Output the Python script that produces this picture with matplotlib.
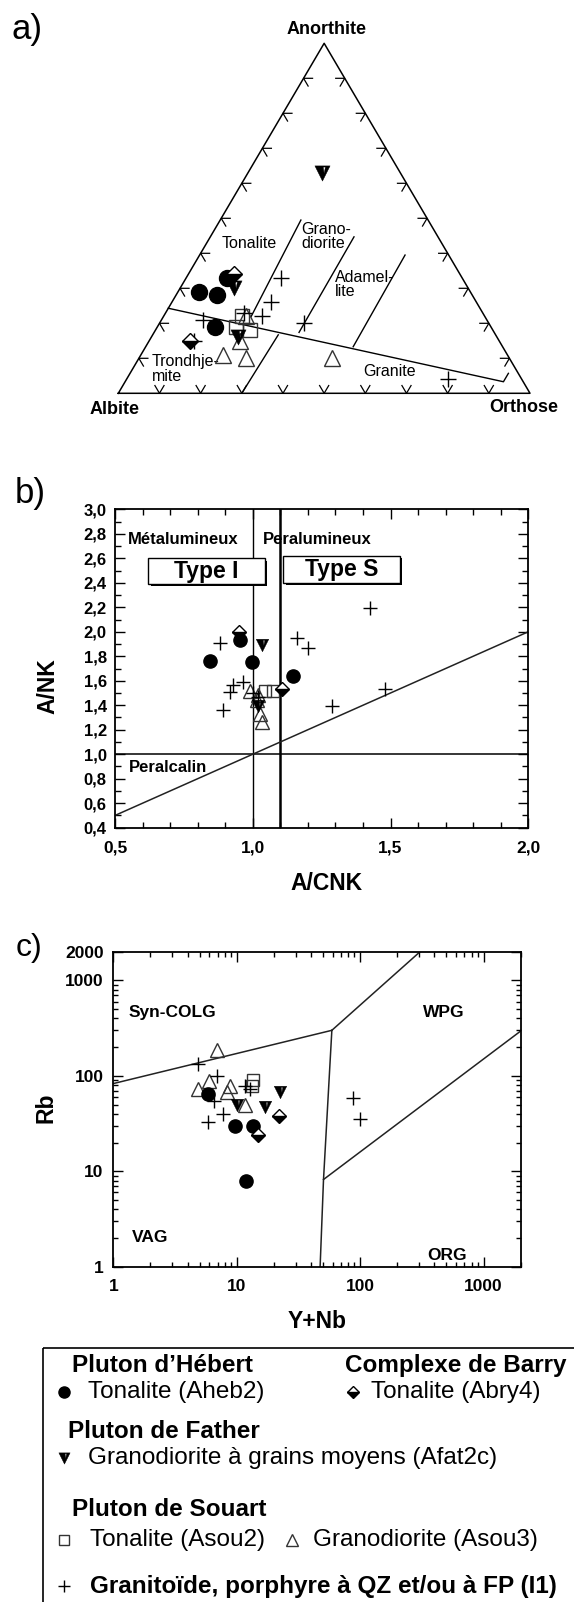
'''
Three geochemical diagrams (a: An-Ab-Or ternary, b: A/NK vs A/CNK, c: Rb vs Y+Nb)
with a common legend box underneath
'''

import matplotlib
matplotlib.use('Agg')
import matplotlib.pyplot as plt
import matplotlib.patheffects as pe
from matplotlib.path import Path
from matplotlib.markers import MarkerStyle
from matplotlib.patches import Rectangle
from matplotlib.ticker import FixedLocator, MultipleLocator, NullFormatter, LogLocator

plt.rcParams['font.family'] = ['Liberation Sans', 'DejaVu Sans']

## DATA ##

# a) normative (An, Ab, Or) in percent, one list per group
tern_heb = [(33, 57, 10), (29, 66, 5), (28, 62, 10), (19, 67, 14)]
tern_bry = [(34, 55, 11), (15, 75, 10)]
tern_fat = [(63, 19, 18), (30, 57, 13), (16, 63, 21)]
tern_sou2 = [(22, 59, 19), (18, 59, 23), (19, 62, 19)]
tern_sou3 = [(22, 58, 20), (11, 69, 20), (10, 64, 26), (10, 43, 47), (15, 63, 22)]
tern_i1 = [(33, 44, 23), (26, 50, 24), (22, 54, 24), (20, 45, 35), (21, 69, 10),
           (15, 74, 11), (4, 18, 78), (23, 58, 19)]

# field boundaries of the ternary, as (An, Or) fractions
tern_fields = [
    [(0.243, 0.0), (0.033, 0.919), (0.057, 0.919)],
    [(0.0, 0.300), (0.167, 0.305)],
    [(0.219, 0.213), (0.495, 0.196)],
    [(0.174, 0.352), (0.447, 0.349)],
    [(0.133, 0.504), (0.395, 0.499)],
]

# b) A/CNK (x) and A/NK (y)
b_heb_x = [0.845, 0.954, 0.996, 1.147]
b_heb_y = [1.76, 1.93, 1.75, 1.64]
b_bry_x = [0.951, 1.105]
b_bry_y = [2.00, 1.53]
b_fat_x = [1.032, 1.020]
b_fat_y = [1.89, 1.39]
b_sou2_x = [1.044, 1.072]
b_sou2_y = [1.52, 1.52]
b_sou3_x = [0.990, 1.014, 1.026, 1.032, 1.020]
b_sou3_y = [1.52, 1.44, 1.33, 1.265, 1.48]
b_i1_x = [0.881, 1.159, 1.202, 1.426, 0.891, 1.286, 1.480, 0.930, 0.966, 0.917, 1.002, 1.020]
b_i1_y = [1.905, 1.946, 1.864, 2.19, 1.361, 1.393, 1.529, 1.565, 1.592, 1.51, 1.497, 1.47]

b_xticks = [0.5, 1.0, 1.5, 2.0]
b_xtick_labels = ['0,5', '1,0', '1,5', '2,0']
b_yticks = [0.4, 0.6, 0.8, 1.0, 1.2, 1.4, 1.6, 1.8, 2.0, 2.2, 2.4, 2.6, 2.8, 3.0]
b_ytick_labels = ['0,4', '0,6', '0,8', '1,0', '1,2', '1,4', '1,6', '1,8', '2,0',
                  '2,2', '2,4', '2,6', '2,8', '3,0']

# c) Y+Nb (x) and Rb (y), ppm
c_heb_x = [5.9, 9.7, 13.6, 11.9]
c_heb_y = [64, 29.6, 30, 7.9]
c_bry_x = [22, 15]
c_bry_y = [38, 24]
c_fat_x = [22.5, 17, 10]
c_fat_y = [67, 47.5, 49]
c_sou2_x = [13.6, 13.3]
c_sou2_y = [90, 78]
c_sou3_x = [6.9, 4.9, 6.0, 8.8, 11.7, 8.3]
c_sou3_y = [185, 73, 88, 78, 49, 68]
c_i1_x = [4.9, 6.9, 5.9, 7.8, 11.7, 12.8, 88, 100, 6.5]
c_i1_y = [134, 100, 32.5, 40, 78, 72, 58, 35, 55]

# Pearce et al. discrimination lines
c_fields = [
    ([1, 59], [83, 300]),
    ([59, 306], [300, 2000]),
    ([59, 50.5, 47.4], [300, 8.2, 1]),
    ([50.5, 2000], [8.2, 295]),
]
c_ticks = [1, 10, 100, 1000]
c_xtick_labels = ['1', '10', '100', '1000']
c_yticks = [1, 10, 100, 1000, 2000]
c_ytick_labels = ['1', '10', '100', '1000', '2000']

## MARKERS ##

# black inverted triangle with a thin white notch
inv_tri = MarkerStyle(Path(
    [(-1, 1), (1, 1), (0, -1), (-1, 1),
     (0.10, 0.85), (0.22, 0.0), (0.38, 0.85), (0.10, 0.85)],
    [Path.MOVETO, Path.LINETO, Path.LINETO, Path.CLOSEPOLY] * 2))

styles = {
    'heb': dict(marker='o', mfc='black', mec='black', mew=1.0, scale=1.0),
    'bry': dict(marker='D', fillstyle='bottom', mfc='black', markerfacecoloralt='white',
                mec='black', mew=1.0, scale=0.72),
    'fat': dict(marker=inv_tri, mfc='black', mec='black', mew=0.3, scale=0.95),
    'sou2': dict(marker='s', mfc='none', mec='#333333', mew=1.0, scale=0.9),
    'sou3': dict(marker='^', mfc='none', mec='#333333', mew=1.0, scale=1.0),
    'i1': dict(marker='+', mec='black', mew=1.0, scale=1.0),
}


def draw_group(ax, x, y, key, size):
    st = dict(styles[key])
    ms = size * st.pop('scale')
    ax.plot(x, y, linestyle='none', ms=ms, zorder=5, clip_on=False, **st)


def tern_xy(points):
    x, y = [], []
    for an, ab, orr in points:
        tot = an + ab + orr
        x.append((orr + an / 2) / tot)
        y.append(an / tot)
    return x, y


## FIGURE ##

W, H = 574, 1602
fig = plt.figure(figsize=(W / 100, H / 100), dpi=100)


def px_axes(left, top, right, bottom):
    return fig.add_axes([left / W, 1 - bottom / H, (right - left) / W, (bottom - top) / H])


# ---------- a) ternary ----------
ax_a = px_axes(118.3, 43.3, 530.0, 393.3)
ax_a.set_xlim(0, 1)
ax_a.set_ylim(0, 1)
ax_a.axis('off')
ax_a.plot([0, 1, 0.5, 0], [0, 0, 1, 0], color='black', lw=1.1, clip_on=False)

# chevron ticks every 10 %
Lx, Ly = 9 / 411.7, 9 / 350.0
cs, sn = 0.507, 0.862
for k in range(1, 10):
    f = k / 10
    # left edge
    vx, vy = f / 2, f
    ax_a.plot([vx + Lx, vx, vx + cs * Lx], [vy, vy, vy - sn * Ly], color='black', lw=0.9)
    # right edge
    vx, vy = 1 - f / 2, f
    ax_a.plot([vx - Lx, vx, vx - cs * Lx], [vy, vy, vy - sn * Ly], color='black', lw=0.9)
    # bottom edge
    vx, vy = f, 0
    ax_a.plot([vx - cs * Lx, vx, vx + cs * Lx], [vy + sn * Ly, vy, vy + sn * Ly], color='black', lw=0.9)

for seg in tern_fields:
    xs = [o + a / 2 for a, o in seg]
    ys = [a for a, o in seg]
    ax_a.plot(xs, ys, color='black', lw=1.0)

ax_a.text(0.251, 0.427, 'Tonalite', fontsize=11.5, va='center')
ax_a.text(0.4455, 0.448, 'Grano-\ndiorite', fontsize=11.5, va='center', linespacing=0.95)
ax_a.text(0.526, 0.311, 'Adamel-\nlite', fontsize=11.5, va='center', linespacing=0.95)
ax_a.text(0.081, 0.069, 'Trondhje-\nmite', fontsize=11.5, va='center', linespacing=0.95)
ax_a.text(0.595, 0.061, 'Granite', fontsize=11.5, va='center')

for pts, key in [(tern_sou3, 'sou3'), (tern_sou2, 'sou2'), (tern_i1, 'i1'),
                 (tern_heb, 'heb'), (tern_fat, 'fat'), (tern_bry, 'bry')]:
    x, y = tern_xy(pts)
    draw_group(ax_a, x, y, key, 11.5)

# ---------- b) A/NK vs A/CNK ----------
ax_b = px_axes(115.0, 509.3, 528.3, 827.7)
ax_b.set_xlim(0.5, 2.0)
ax_b.set_ylim(0.4, 3.0)
ax_b.xaxis.set_major_locator(FixedLocator(b_xticks))
ax_b.xaxis.set_minor_locator(MultipleLocator(0.1))
ax_b.yaxis.set_major_locator(FixedLocator(b_yticks))
ax_b.yaxis.set_minor_locator(MultipleLocator(0.1))
ax_b.set_xticklabels(b_xtick_labels, fontweight='bold', fontsize=12.5)
ax_b.set_yticklabels(b_ytick_labels, fontweight='bold', fontsize=12)
ax_b.tick_params(which='both', direction='in', top=True, right=True, width=1.0)
ax_b.tick_params(which='major', length=7)
ax_b.tick_params(which='minor', length=4)
ax_b.tick_params(axis='x', pad=9)
ax_b.tick_params(axis='y', pad=6)
for sp in ax_b.spines.values():
    sp.set_linewidth(1.3)

ax_b.axvline(1.0, color='black', lw=1.0, zorder=2)
ax_b.axvline(1.1, color='black', lw=1.8, zorder=2)
ax_b.axhline(1.0, color='black', lw=1.1, zorder=2)
ax_b.plot([0.5, 2.0], [0.5, 2.0], color='#222222', lw=1.1, zorder=2)

ax_b.text(0.548, 2.75, 'Métalumineux', fontsize=12, fontweight='bold', va='center')
ax_b.text(1.036, 2.75, 'Peralumineux', fontsize=12, fontweight='bold', va='center')
ax_b.text(0.552, 0.89, 'Peralcalin', fontsize=12, fontweight='bold', va='center')

for x0, x1, y0, y1, lab in [(0.621, 1.044, 2.39, 2.60, 'Type I'),
                            (1.111, 1.534, 2.40, 2.62, 'Type S')]:
    box = Rectangle((x0, y0), x1 - x0, y1 - y0, facecolor='white', edgecolor='black', lw=1.0,
                    zorder=3, path_effects=[pe.SimplePatchShadow(offset=(1.6, -1.6),
                                                                 shadow_rgbFace='black', alpha=1),
                                            pe.Normal()])
    ax_b.add_patch(box)
    ax_b.text((x0 + x1) / 2, (y0 + y1) / 2, lab, fontsize=16.5, fontweight='bold',
              ha='center', va='center', zorder=4)

draw_group(ax_b, b_sou3_x, b_sou3_y, 'sou3', 9.5)
draw_group(ax_b, b_sou2_x, b_sou2_y, 'sou2', 9.5)
draw_group(ax_b, b_i1_x, b_i1_y, 'i1', 9.5)
draw_group(ax_b, b_heb_x, b_heb_y, 'heb', 9.5)
draw_group(ax_b, b_fat_x, b_fat_y, 'fat', 9.5)
draw_group(ax_b, b_bry_x, b_bry_y, 'bry', 9.5)

# ---------- c) Rb vs Y+Nb ----------
ax_c = px_axes(113.3, 951.7, 520.7, 1266.7)
ax_c.set_xscale('log')
ax_c.set_yscale('log')
ax_c.set_xlim(1, 2000)
ax_c.set_ylim(1, 2000)
ax_c.xaxis.set_major_locator(FixedLocator(c_ticks))
ax_c.yaxis.set_major_locator(FixedLocator(c_yticks))
ax_c.xaxis.set_minor_locator(LogLocator(base=10, subs=range(2, 10)))
ax_c.yaxis.set_minor_locator(LogLocator(base=10, subs=range(2, 10)))
ax_c.xaxis.set_minor_formatter(NullFormatter())
ax_c.yaxis.set_minor_formatter(NullFormatter())
ax_c.set_xticklabels(c_xtick_labels, fontweight='bold', fontsize=12.5)
ax_c.set_yticklabels(c_ytick_labels, fontweight='bold', fontsize=12.5)
ax_c.tick_params(which='both', direction='in', top=True, right=True, width=1.0)
ax_c.tick_params(which='major', length=7)
ax_c.tick_params(which='minor', length=3.5)
ax_c.tick_params(axis='x', pad=9)
ax_c.tick_params(axis='y', pad=7)
for sp in ax_c.spines.values():
    sp.set_linewidth(1.3)

for xs, ys in c_fields:
    ax_c.plot(xs, ys, color='#222222', lw=1.1, zorder=2)

ax_c.text(1.32, 465, 'Syn-COLG', fontsize=12.5, fontweight='bold', va='center')
ax_c.text(325, 465, 'WPG', fontsize=12.5, fontweight='bold', va='center')
ax_c.text(1.42, 2.0, 'VAG', fontsize=12.5, fontweight='bold', va='center')
ax_c.text(350, 1.3, 'ORG', fontsize=12.5, fontweight='bold', va='center')

draw_group(ax_c, c_sou3_x, c_sou3_y, 'sou3', 9.5)
draw_group(ax_c, c_sou2_x, c_sou2_y, 'sou2', 9.5)
draw_group(ax_c, c_i1_x, c_i1_y, 'i1', 9.5)
draw_group(ax_c, c_heb_x, c_heb_y, 'heb', 9.5)
draw_group(ax_c, c_fat_x, c_fat_y, 'fat', 9.5)
draw_group(ax_c, c_bry_x, c_bry_y, 'bry', 9.5)

# ---------- overlay: panel letters, axis titles, legend ----------
ax_o = fig.add_axes([0, 0, 1, 1])
ax_o.set_xlim(0, W)
ax_o.set_ylim(H, 0)
ax_o.axis('off')

ax_o.text(27, 29, 'a)', fontsize=25, ha='center', va='center')
ax_o.text(30, 494, 'b)', fontsize=25, ha='center', va='center')
ax_o.text(29, 948, 'c)', fontsize=23, ha='center', va='center')

ax_o.text(327, 30, 'Anorthite', fontsize=13, fontweight='bold', ha='center', va='center')
ax_o.text(115, 409, 'Albite', fontsize=13, fontweight='bold', ha='center', va='center')
ax_o.text(524, 408, 'Orthose', fontsize=13, fontweight='bold', ha='center', va='center')

ax_o.text(48, 686, 'A/NK', fontsize=16.5, fontweight='bold', rotation=90, ha='center', va='center')
ax_o.text(326, 883, 'A/CNK', fontsize=16.5, fontweight='bold', ha='center', va='center')
ax_o.text(46, 1108, 'Rb', fontsize=16.5, fontweight='bold', rotation=90, ha='center', va='center')
ax_o.text(317, 1322, 'Y+Nb', fontsize=16.5, fontweight='bold', ha='center', va='center')

ax_o.add_patch(Rectangle((43, 1347.5), 600, 400, fill=False, edgecolor='black', lw=1.2))

fs = 17.5
ax_o.text(71.5, 1365.5, 'Pluton d\u2019Hébert', fontsize=fs, fontweight='bold', va='center')
ax_o.text(345, 1365.5, 'Complexe de Barry', fontsize=fs, fontweight='bold', va='center')
draw_group(ax_o, [64], [1392], 'heb', 8)
ax_o.text(87.5, 1392, 'Tonalite (Aheb2)', fontsize=fs, va='center')
draw_group(ax_o, [353], [1392], 'bry', 9)
ax_o.text(371, 1392, 'Tonalite (Abry4)', fontsize=fs, va='center')

ax_o.text(68, 1431, 'Pluton de Father', fontsize=fs, fontweight='bold', va='center')
draw_group(ax_o, [64], [1458], 'fat', 8.5)
ax_o.text(87.5, 1458, 'Granodiorite à grains moyens (Afat2c)', fontsize=fs, va='center')

ax_o.text(72, 1509, 'Pluton de Souart', fontsize=fs, fontweight='bold', va='center')
draw_group(ax_o, [64], [1540], 'sou2', 8.5)
ax_o.text(89.5, 1540, 'Tonalite (Asou2)', fontsize=fs, va='center')
draw_group(ax_o, [292], [1540], 'sou3', 8.5)
ax_o.text(313, 1540, 'Granodiorite (Asou3)', fontsize=fs, va='center')

draw_group(ax_o, [64], [1586], 'i1', 9)
ax_o.text(89.5, 1586, 'Granitoïde, porphyre à QZ et/ou à FP (I1)', fontsize=fs,
          fontweight='bold', va='center')

fig.savefig('out.png', dpi=100)
